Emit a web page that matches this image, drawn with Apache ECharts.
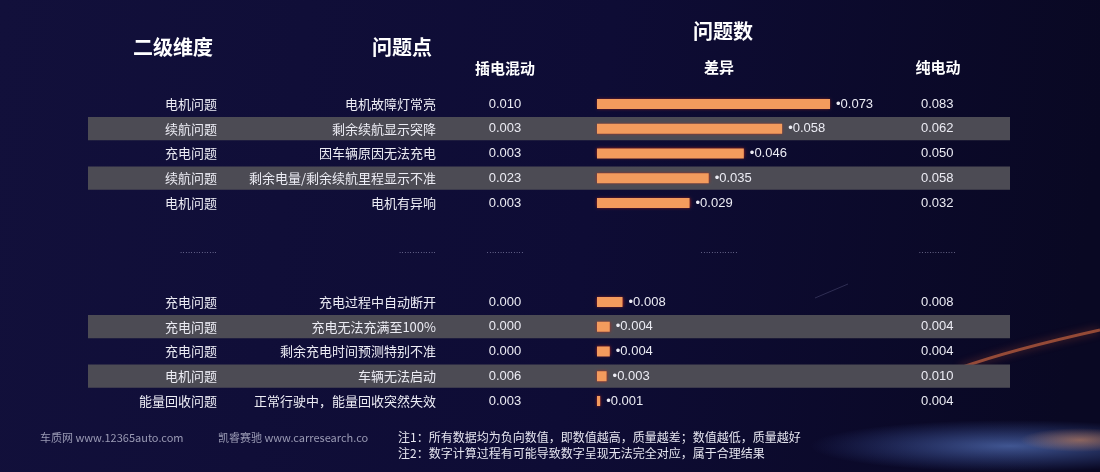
<!DOCTYPE html>
<html>
<head>
<meta charset="utf-8">
<script src="https://cdn.jsdelivr.net/npm/echarts@6/dist/echarts.min.js"></script>
<style>
html,body{margin:0;padding:0;background:#0e0d30;}
#chart{width:1100px;height:472px;}
</style>
</head>
<body>
<div id="chart"></div>
<script>
// ---- data ----
const dimensions = ['电机问题','续航问题','充电问题','续航问题','电机问题','充电问题','充电问题','充电问题','电机问题','能量回收问题'];
const problems = ['电机故障灯常亮','剩余续航显示突降','因车辆原因无法充电','剩余电量/剩余续航里程显示不准','电机有异响','充电过程中自动断开','充电无法充满至100%','剩余充电时间预测特别不准','车辆无法启动','正常行驶中，能量回收突然失效'];
const phevValues = [0.010,0.003,0.003,0.023,0.003,0.000,0.000,0.000,0.006,0.003];
const diffValues = [0.073,0.058,0.046,0.035,0.029,0.008,0.004,0.004,0.003,0.001];
const bevValues  = [0.083,0.062,0.050,0.058,0.032,0.008,0.004,0.004,0.010,0.004];
const headers = {dim:'二级维度', prob:'问题点', count:'问题数', phev:'插电混动', diff:'差异', bev:'纯电动'};
const notes = ['注1：所有数据均为负向数值，即数值越高，质量越差；数值越低，质量越好','注2：数字计算过程有可能导致数字呈现无法完全对应，属于合理结果'];
const sources = ['车质网 www.12365auto.com','凯睿赛驰 www.carresearch.co'];
const topCount = 5;
const gapRows = 3;
const DOTS = '··············';

// ---- rows (top group, gap, bottom group) ----
const rows = [];
for (let i = 0; i < dimensions.length; i++) {
  if (i === topCount) {
    for (let g = 0; g < gapRows; g++) rows.push({gap:true, dots: g === Math.floor(gapRows/2)});
  }
  const inGroup = i < topCount ? i : i - topCount;
  rows.push({gap:false, i, stripe: inGroup % 2 === 1});
}
const cats = rows.map((r, k) => 'r' + k);

const chart = echarts.init(document.getElementById('chart'));
const numFont = 'Liberation Sans, Noto Sans CJK SC, sans-serif';
const cjkFont = 'Noto Sans CJK SC, sans-serif';
const txt = '#ececf4';
const dotStyle = {color:'rgba(190,190,225,0.6)', fontSize:8, fontFamily:'Liberation Sans'};

function colLabel(fn) {
  return (v, idx) => {
    const r = rows[idx];
    if (!r) return '';
    if (r.gap) return r.dots ? '{d|' + DOTS + '}' : '';
    return fn(r.i);
  };
}
function colAxis(opts) {
  return Object.assign({
    type:'category', gridIndex:1, data:cats, inverse:true, z:10,
    axisLine:{show:false}, axisTick:{show:false}, splitLine:{show:false},
  }, opts);
}
function lbl(fn, align, font, extra) {
  return Object.assign({
    show:true, interval:0, margin:0, align, color:txt, fontSize:13, fontFamily:font,
    formatter: colLabel(fn), rich:{d:dotStyle}
  }, extra || {});
}

const gridTop = 91.6, gridHeight = 321.75;
chart.setOption({
  backgroundColor: {
    type:'linear', x:0, y:0, x2:1, y2:0.3,
    colorStops:[{offset:0,color:'#12103b'},{offset:0.55,color:'#0e0c35'},{offset:1,color:'#090823'}]
  },
  animation:false,
  grid:[
    {left:88, width:922, top:gridTop, height:gridHeight},
    {left:597, width:319.2, top:gridTop, height:gridHeight}
  ],
  xAxis:[
    {type:'value', gridIndex:0, min:0, max:1, show:false},
    {type:'value', gridIndex:1, min:0, max:0.1, show:false}
  ],
  yAxis:[
    {type:'category', gridIndex:0, data:cats, inverse:true, show:false},
    colAxis({position:'left', offset:0, axisLabel:{show:false}}),
    colAxis({position:'left', offset:380, axisLabel:lbl(i => dimensions[i], 'right', cjkFont)}),
    colAxis({position:'left', offset:161, axisLabel:lbl(i => problems[i], 'right', cjkFont)}),
    colAxis({position:'left', offset:92, axisLabel:lbl(i => phevValues[i].toFixed(3), 'center', numFont)}),
    colAxis({position:'left', offset:-122, axisLabel:lbl(i => '', 'center', numFont)}),
    colAxis({position:'right', offset:21, axisLabel:lbl(i => bevValues[i].toFixed(3), 'center', numFont)})
  ],
  series:[
    {
      type:'bar', xAxisIndex:0, yAxisIndex:0, silent:true, z:-1,
      barWidth:'94%',
      data: rows.map(r => (!r.gap && r.stripe) ? 1 : null),
      itemStyle:{color:'#4c4b54'}
    },
    {
      type:'bar', xAxisIndex:1, yAxisIndex:1, z:5,
      barWidth:10,
      data: rows.map(r => r.gap ? null : diffValues[r.i]),
      itemStyle:{color:'#f39b5d', shadowColor:'rgba(190,40,20,0.95)', shadowBlur:3},
      label:{
        show:true, position:'right', distance:6, color:txt, fontSize:13, fontFamily:numFont,
        formatter: p => p.value == null ? '' : '•' + Number(p.value).toFixed(3)
      }
    }
  ],
  graphic:[
    // decorative background glows (bottom right)
    {type:'circle', z:-10, silent:true, x:1010, y:446, scaleY:0.13, shape:{cx:0, cy:0, r:200},
      style:{fill:{type:'radial', x:0.5, y:0.5, r:0.5, colorStops:[{offset:0,color:'rgba(110,150,235,0.55)'},{offset:1,color:'rgba(90,130,230,0)'}]}}},
    {type:'circle', z:-10, silent:true, x:1080, y:440, scaleY:0.2, shape:{cx:0, cy:0, r:60},
      style:{fill:{type:'radial', x:0.5, y:0.5, r:0.5, colorStops:[{offset:0,color:'rgba(240,150,90,0.5)'},{offset:1,color:'rgba(240,150,90,0)'}]}}},
    {type:'bezierCurve', z:-10, silent:true, shape:{x1:960, y1:368, x2:1100, y2:330, cpx1:1010, cpy1:350},
      style:{stroke:'rgba(240,120,70,0.55)', lineWidth:3, shadowColor:'rgba(240,100,60,0.8)', shadowBlur:8, fill:null}},
    {type:'line', z:-10, silent:true, shape:{x1:815, y1:298, x2:848, y2:284},
      style:{stroke:'rgba(150,150,200,0.25)', lineWidth:1}},
    {type:'text', x:173, y:47, style:{text:headers.dim, fill:'#fff', font:'bold 20px Noto Sans CJK SC', textAlign:'center', textVerticalAlign:'middle'}},
    {type:'text', x:402, y:47, style:{text:headers.prob, fill:'#fff', font:'bold 20px Noto Sans CJK SC', textAlign:'center', textVerticalAlign:'middle'}},
    {type:'text', x:723, y:31, style:{text:headers.count, fill:'#fff', font:'bold 20px Noto Sans CJK SC', textAlign:'center', textVerticalAlign:'middle'}},
    {type:'text', x:505, y:68, style:{text:headers.phev, fill:'#fff', font:'bold 15px Noto Sans CJK SC', textAlign:'center', textVerticalAlign:'middle'}},
    {type:'text', x:719, y:67, style:{text:headers.diff, fill:'#fff', font:'bold 15px Noto Sans CJK SC', textAlign:'center', textVerticalAlign:'middle'}},
    {type:'text', x:938, y:67, style:{text:headers.bev, fill:'#fff', font:'bold 15px Noto Sans CJK SC', textAlign:'center', textVerticalAlign:'middle'}},
    {type:'text', x:40, y:438, style:{text:sources[0], fill:'#9a9ab4', font:'11px Noto Sans CJK SC', textVerticalAlign:'middle'}},
    {type:'text', x:218, y:438, style:{text:sources[1], fill:'#9a9ab4', font:'11px Noto Sans CJK SC', textVerticalAlign:'middle'}},
    {type:'text', x:398, y:437, style:{text:notes[0], fill:'#e6e6f0', font:'12px Noto Sans CJK SC', textVerticalAlign:'middle'}},
    {type:'text', x:398, y:453, style:{text:notes[1], fill:'#e6e6f0', font:'12px Noto Sans CJK SC', textVerticalAlign:'middle'}}
  ]
});
</script>
</body>
</html>
